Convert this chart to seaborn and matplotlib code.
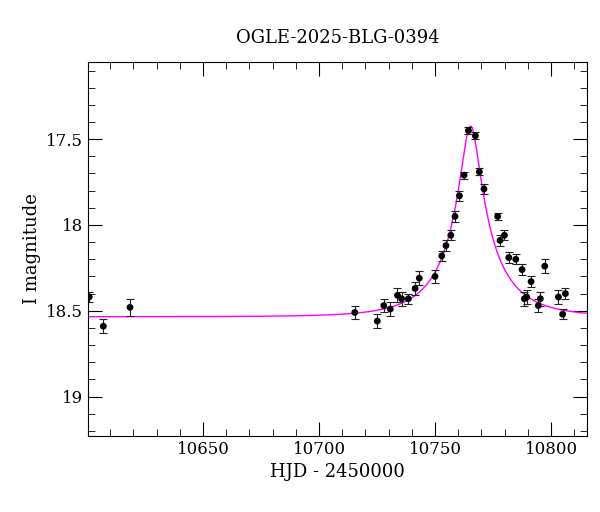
import numpy as np
import matplotlib
matplotlib.use("Agg")
import matplotlib.pyplot as plt
import seaborn as sns
import pandas as pd
from matplotlib.ticker import MultipleLocator

hjd = [10600.9, 10607.0, 10618.5, 10715.4, 10725.1, 10727.9, 10730.7, 10733.8, 10735.6,
       10738.5, 10741.4, 10743.2, 10750.0, 10752.9, 10754.7, 10756.8, 10758.6, 10760.5,
       10762.5, 10764.4, 10767.4, 10769.1, 10771.1, 10777.0, 10778.0, 10779.9, 10781.8,
       10784.8, 10787.5, 10788.5, 10789.5, 10791.4, 10794.5, 10795.4, 10797.3, 10803.2,
       10805.0, 10806.2]
mag = [18.42, 18.59, 18.48, 18.51, 18.56, 18.47, 18.49, 18.41, 18.43,
       18.43, 18.37, 18.31, 18.30, 18.18, 18.12, 18.06, 17.95, 17.83,
       17.71, 17.45, 17.48, 17.69, 17.79, 17.95, 18.09, 18.06, 18.19,
       18.20, 18.26, 18.43, 18.42, 18.33, 18.47, 18.43, 18.24, 18.42,
       18.52, 18.40]
err = [0.03, 0.04, 0.05, 0.04, 0.04, 0.04, 0.04, 0.04, 0.04,
       0.03, 0.04, 0.04, 0.04, 0.03, 0.03, 0.03, 0.03, 0.03,
       0.02, 0.02, 0.02, 0.02, 0.03, 0.02, 0.03, 0.03, 0.03,
       0.03, 0.03, 0.04, 0.04, 0.03, 0.04, 0.04, 0.04, 0.04,
       0.03, 0.03]
# Paczynski model parameters
t0, tE, u0, base, fs = 10765.3, 24.0, 0.17, 18.535, 0.36

df = pd.DataFrame({"hjd": hjd, "mag": mag, "err": err})
tm = np.linspace(10600, 10816, 1200)
u = np.sqrt(u0**2 + ((tm - t0) / tE)**2)
A = (u**2 + 2) / (u * np.sqrt(u**2 + 4))
model = pd.DataFrame({"t": tm, "m": base - 2.5 * np.log10(fs * A + 1 - fs)})

plt.rcParams["font.family"] = "DejaVu Serif"
fig = plt.figure(figsize=(6, 5.12), dpi=100)
ax = fig.add_axes([0.1467, 0.1484, 0.8316, 0.7306])
sns.lineplot(data=model, x="t", y="m", color="#ff00ff", lw=1, ax=ax)
ax.errorbar(df.hjd, df.mag, yerr=df.err, fmt="none", ecolor="#222222", elinewidth=0.8,
            capsize=3, capthick=0.8)
sns.scatterplot(data=df, x="hjd", y="mag", color="black", s=24, edgecolor="none", ax=ax, zorder=3)
ax.set_xlim(10600.4, 10815.5)
ax.set_ylim(19.23, 17.05)
ax.xaxis.set_major_locator(MultipleLocator(50))
ax.xaxis.set_minor_locator(MultipleLocator(10))
ax.yaxis.set_minor_locator(MultipleLocator(0.1))
ax.set_yticks([17.5, 18, 18.5, 19])
ax.set_yticklabels(["17.5", "18", "18.5", "19"])
ax.tick_params(which="both", direction="in", top=True, right=True, labelsize=12)
ax.tick_params(which="major", length=10)
ax.tick_params(which="minor", length=5)
ax.set_xlabel("HJD - 2450000", fontsize=13)
ax.set_ylabel("I magnitude", fontsize=13)
ax.set_title("OGLE-2025-BLG-0394", fontsize=13, pad=14)
fig.savefig("out.png", dpi=100)
